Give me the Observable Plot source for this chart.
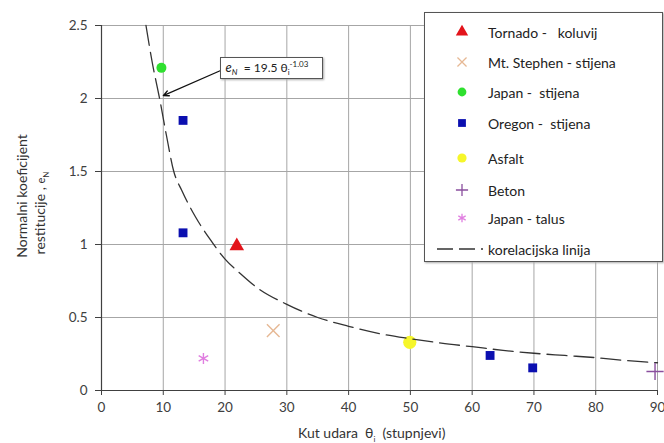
<!DOCTYPE html>
<html><head><meta charset="utf-8">
<script src="https://cdn.jsdelivr.net/npm/d3@7"></script>
<script src="https://cdn.jsdelivr.net/npm/@observablehq/plot@0.6"></script>
<style>
body{margin:0;background:#fff;font-family:Lato,"Open Sans",sans-serif;}
#wrap{position:relative;width:664px;height:443px;overflow:hidden;background:#fff;}
.abs{position:absolute;white-space:pre;color:#333;line-height:1.1;}
#legend{position:absolute;left:424px;top:12px;width:237px;height:248px;border:1px solid #555;background:#fff;box-shadow:1px 1px 2px #aaa;}
.lrow{position:absolute;left:63px;font-size:14px;color:#222;white-space:pre;transform:translateY(-50%);}
#eq{position:absolute;border:1px solid #555;background:#fff;font-size:12px;color:#222;box-shadow:1px 1px 2px #aaa;white-space:pre;padding-left:4px;box-sizing:border-box;}
#eq span.in{position:absolute;left:5px;top:50%;transform:translateY(-50%);line-height:1;}
sub,sup{font-size:8px;}
</style></head><body><div id="wrap"></div>
<script>
// ---- data ----
const seriesNames   = ["Tornado -   koluvij", "Mt. Stephen - stijena", "Japan -  stijena", "Oregon -  stijena", "Asfalt", "Beton", "Japan - talus"];
const seriesSymbols = ["triangle", "times", "circle", "square", "circle", "plus", "asterisk"];
const seriesColors  = ["#e3141b", "#e6b894", "#2fe02f", "#0b0fb0", "#f6f62a", "#8a4f9e", "#e07ee0"];
const seriesFilled  = [true, false, true, true, true, false, false];

const pointSeries = [0, 1, 2, 3, 3, 3, 3, 4, 5, 6];
const pointAngle  = [21.9, 27.8, 9.7, 13.2, 13.2, 62.9, 69.8, 49.9, 89.6, 16.5];
const pointCoef   = [0.99, 0.41, 2.21, 1.85, 1.08, 0.24, 0.155, 0.33, 0.13, 0.22];

const curveAngle = [7.2, 8.2, 9.4, 10.5, 11.7, 13, 15.2, 17.5, 20, 22.5, 25, 30, 35, 40, 45, 50, 55, 60, 65, 70, 75, 80, 85, 90];
const curveCoef  = [2.5, 2.25, 2.0, 1.75, 1.5, 1.37, 1.19, 1.04, 0.9, 0.8, 0.71, 0.59, 0.5, 0.44, 0.39, 0.355, 0.325, 0.3, 0.275, 0.255, 0.24, 0.225, 0.205, 0.19];

const xTicks = [0, 10, 20, 30, 40, 50, 60, 70, 80, 90];
const yTicks = [0, 0.5, 1, 1.5, 2, 2.5];
const yTickLabels = ["0", "0.5", "1", "1.5", "2", "2.5"];

const eqBox   = {x1: 19.2, x2: 35.9, y1: 2.28, y2: 2.13};
const eqArrow = [{x1: 19.2, y1: 2.19, x2: 10.0, y2: 2.02}];
const lineLabel = "korelacijska linija";

// ---- build ----
const points = pointAngle.map((a, i) => ({angle: a, coef: pointCoef[i], s: pointSeries[i]}));
const curve = curveAngle.map((a, i) => ({angle: a, coef: curveCoef[i]}));
const symR = [5.4, 5.8, 5.0, 5.0, 6.6, 5.6, 5.2];
const legR = [4.6, 4.2, 4.4, 4.4, 4.6, 4.0, 4.0];

const dotMarks = seriesNames.map((n, s) => Plot.dot(points.filter(p => p.s === s), {
  x: "angle", y: "coef", symbol: seriesSymbols[s], r: symR[s],
  fill: seriesFilled[s] ? seriesColors[s] : "none",
  stroke: seriesFilled[s] ? "none" : seriesColors[s],
  strokeWidth: 1.4
}));

const chart = Plot.plot({
  width: 664, height: 443,
  marginLeft: 101, marginRight: 7, marginTop: 25, marginBottom: 53,
  style: {fontFamily: "Lato, sans-serif", fontSize: "13.5px", color: "#404040", background: "white"},
  x: {domain: [0, 90], ticks: xTicks, tickSize: 5, tickPadding: 7, label: null},
  y: {domain: [0, 2.5], ticks: yTicks, tickFormat: (d) => yTickLabels[yTicks.indexOf(d)], tickSize: 6, tickPadding: 8, label: null},
  marks: [
    Plot.ruleX(xTicks, {stroke: "#a6a6a6", strokeWidth: 1}),
    Plot.ruleY(yTicks, {stroke: "#a6a6a6", strokeWidth: 1}),
    Plot.ruleY([0], {stroke: "#404040", strokeWidth: 1.2}),
    Plot.ruleX([0], {stroke: "#404040", strokeWidth: 1.2}),
    dotMarks[4],
    Plot.line(curve, {x: "angle", y: "coef", curve: "monotone-x", stroke: "#333", strokeWidth: 1.3, strokeDasharray: "20,7"}),
    ...dotMarks.filter((m, i) => i !== 4),
    Plot.arrow(eqArrow, {x1: "x1", y1: "y1", x2: "x2", y2: "y2", stroke: "#111", strokeWidth: 1.3, headLength: 7, headAngle: 50})
  ]
});

const wrap = document.getElementById("wrap");
wrap.appendChild(chart);
const sx = chart.scale("x"), sy = chart.scale("y");

// equation box
const eq = document.createElement("div");
eq.id = "eq";
const bx = sx.apply(eqBox.x1), by = sy.apply(eqBox.y1);
eq.style.left = bx + "px"; eq.style.top = by + "px";
eq.style.width = (sx.apply(eqBox.x2) - bx) + "px";
eq.style.height = (sy.apply(eqBox.y2) - by) + "px";
eq.innerHTML = '<span class="in"><i style="font-size:13px">e</i><sub><i>N</i></sub>  = 19.5 θ<sub>i</sub><sup>-1.03</sup></span>';
wrap.appendChild(eq);

// axis titles
const xt = document.createElement("div");
xt.className = "abs"; xt.style.left = "298px"; xt.style.top = "425px"; xt.style.fontSize = "14px";
xt.innerHTML = 'Kut udara  θ<sub>i</sub>  (stupnjevi)';
wrap.appendChild(xt);

function yTitle(html, cx, cy) {
  const d = document.createElement("div");
  d.className = "abs"; d.style.fontSize = "14px";
  d.style.left = cx + "px"; d.style.top = cy + "px";
  d.style.transform = "translate(-50%,-50%) rotate(-90deg)";
  d.innerHTML = html;
  wrap.appendChild(d);
}
yTitle("Normalni koeficijent", 22, 196);
yTitle('restitucije , <span style="font-size:11px">e</span><sub>N</sub>', 41, 213);

// legend
const legend = document.createElement("div");
legend.id = "legend";
wrap.appendChild(legend);
const rowY = [19, 49, 79, 110, 145, 177, 205, 236];
const lsvg = d3.select(legend).append("svg").attr("width", 237).attr("height", 248).style("position", "absolute").style("left", 0).style("top", 0);
const symMap = {triangle: d3.symbolTriangle, times: d3.symbolTimes, circle: d3.symbolCircle, square: d3.symbolSquare, plus: d3.symbolPlus, asterisk: d3.symbolAsterisk};
seriesNames.forEach((n, s) => {
  const r = legR[s];
  lsvg.append("path")
    .attr("d", d3.symbol(symMap[seriesSymbols[s]], Math.PI * r * r)())
    .attr("transform", `translate(37,${rowY[s]})`)
    .attr("fill", seriesFilled[s] ? seriesColors[s] : "none")
    .attr("stroke", seriesFilled[s] ? "none" : seriesColors[s])
    .attr("stroke-width", 1.3);
  const t = document.createElement("div");
  t.className = "lrow"; t.style.top = rowY[s] + "px"; t.textContent = n;
  legend.appendChild(t);
});
lsvg.append("line").attr("x1", 12).attr("x2", 58).attr("y1", rowY[7]).attr("y2", rowY[7])
  .attr("stroke", "#333").attr("stroke-width", 1.3).attr("stroke-dasharray", "16,6");
const lt = document.createElement("div");
lt.className = "lrow"; lt.style.top = rowY[7] + "px"; lt.textContent = lineLabel;
legend.appendChild(lt);
</script>
</body></html>
